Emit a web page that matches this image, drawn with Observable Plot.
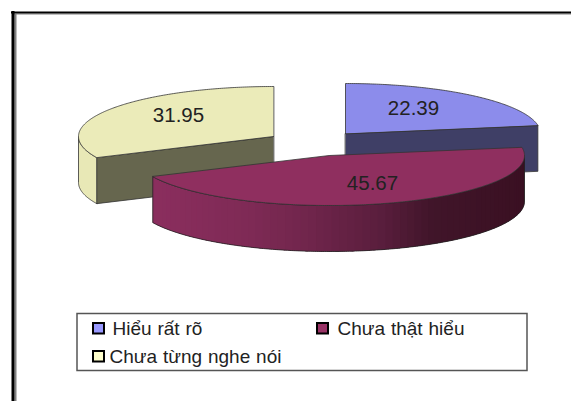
<!DOCTYPE html>
<html>
<head>
<meta charset="utf-8">
<script src="https://cdn.jsdelivr.net/npm/d3@7"></script>
<script src="https://cdn.jsdelivr.net/npm/@observablehq/plot@0.6"></script>
<style>
  html, body { margin: 0; padding: 0; background: #fff; overflow: hidden; }
  svg { display: block; }
  svg text { word-spacing: 0.6px; }
</style>
</head>
<body>
<div id="chart"></div>
<script>
// Survey answers, in percent
const categories = ["Hiểu rất rõ", "Chưa thật hiểu", "Chưa từng nghe nói"];
const shares = [22.39, 45.67, 31.95];

// Colours per slice: top surface, flat cut face, legend swatch
const topColors = ["#8c8ceb", "#8f2f5f", "#ebebb9"];
const faceColors = ["#3f3f66", "#5a1e3d", "#66664e"];
const swatchColors = ["#9999ff", "#993366", "#ffffcc"];

// Layout of the tilted, exploded pie
const radiusX = 195, radiusY = 50, depth = 46;
const hubs = [[345, 133], [329, 155], [273, 136]];
const labelSpots = [[413, 108], [372, 183], [178, 115]];

// Shading along the rim of the front slice
const rimStops = [152, 250, 300, 380, 430, 524];
const rimColors = ["#8b2e5e", "#7e2a55", "#72264d", "#5a1e3d", "#41152a", "#3a1022"];
const rimShade = d3.scaleLinear().domain(rimStops).range(rimColors);

const arcs = d3.pie().sort(null).startAngle(0).endAngle(2 * Math.PI)(shares);

const rimPoint = (i, a, drop = 0) => ({
  x: hubs[i][0] + radiusX * Math.sin(a),
  y: hubs[i][1] - radiusY * Math.cos(a) + drop
});

function arcPoints(i, a0, a1, drop = 0) {
  const n = Math.max(2, Math.ceil(Math.abs(a1 - a0) / 0.01));
  return d3.range(n + 1).map((k) => rimPoint(i, a0 + (a1 - a0) * k / n, drop));
}

function polygon(points, fill, stroke = fill, strokeWidth = 0.8) {
  return Plot.line(points, { x: "x", y: "y", fill, stroke, strokeWidth, curve: "linear-closed" });
}

const hubPoint = (i, drop = 0) => ({ x: hubs[i][0], y: hubs[i][1] + drop });

// Flat cut face showing below the leading edge of a slice
function cutFace(i, a) {
  return polygon(
    [hubPoint(i), rimPoint(i, a), rimPoint(i, a, depth), hubPoint(i, depth)],
    faceColors[i], "#333"
  );
}

// Curved outer wall between two angles
function wallPoints(i, a0, a1) {
  return [...arcPoints(i, a0, a1), ...arcPoints(i, a1, a0, depth)];
}

function topSurface(i) {
  return polygon([hubPoint(i), ...arcPoints(i, arcs[i].startAngle, arcs[i].endAngle)], topColors[i], "#333");
}

const threeQuarter = 1.5 * Math.PI;

// Yellow slice: wall on the left side, then the cut face and top
const yellowMarks = [
  polygon(wallPoints(2, arcs[2].startAngle, threeQuarter), "#e8e8b6", "#333"),
  cutFace(2, arcs[2].startAngle),
  topSurface(2)
];

// Blue slice: cut face along its clockwise edge, then the top
const blueMarks = [cutFace(0, arcs[0].endAngle), topSurface(0)];

// Purple slice: wall built from overlapping shaded strips, each painted over the previous one
const wallStart = Math.PI / 2, wallEnd = arcs[1].endAngle;
const stripEdges = d3.range(wallStart, wallEnd, 0.04).concat([wallEnd]);
const purpleStrips = d3.pairs(stripEdges).map(([a0, a1]) => {
  const shade = rimShade(rimPoint(1, (a0 + a1) / 2).x);
  return Plot.line(wallPoints(1, a0, Math.min(a1 + 0.06, wallEnd)), {
    x: "x", y: "y", fill: shade, stroke: "none", curve: "linear-closed"
  });
});
const purpleMarks = [
  ...purpleStrips,
  Plot.line(wallPoints(1, wallStart, wallEnd), { x: "x", y: "y", stroke: "#222", strokeWidth: 0.8, curve: "linear-closed" }),
  topSurface(1)
];

// Outer frame: black edge with a grey inner edge
const frameMarks = [
  Plot.ruleX([15], { y1: 14, y2: 401, stroke: "#808080", strokeWidth: 2 }),
  Plot.ruleY([13.5], { x1: 14, x2: 571, stroke: "#808080", strokeWidth: 1 }),
  Plot.ruleX([12.5], { y1: 11, y2: 401, stroke: "#000", strokeWidth: 3 }),
  Plot.ruleY([12], { x1: 11, x2: 571, stroke: "#000", strokeWidth: 2 })
];

// Legend
const legendSlots = [
  { box: [93, 323], textX: 112, textY: 328 },
  { box: [317, 323], textX: 337, textY: 328 },
  { box: [93, 351], textX: 109, textY: 356 }
];
const legendRows = categories.map((name, i) => ({ name, color: swatchColors[i], ...legendSlots[i] }));
const legendMarks = [
  Plot.rect([0], { x1: 77, x2: 527, y1: 313.5, y2: 370.5, fill: "#fff", stroke: "#555", strokeWidth: 1.5 }),
  Plot.rect(legendRows, {
    x1: (d) => d.box[0], x2: (d) => d.box[0] + 11,
    y1: (d) => d.box[1], y2: (d) => d.box[1] + 10.5,
    fill: "color", stroke: "#000", strokeWidth: 2
  }),
  Plot.text(legendRows, {
    x: "textX", y: "textY", text: "name", textAnchor: "start",
    fontFamily: "Liberation Sans", fontSize: 19, fill: "#222"
  })
];

const valueLabels = Plot.text(shares.map((v, i) => ({ v, at: labelSpots[i] })), {
  x: (d) => d.at[0], y: (d) => d.at[1], text: (d) => d.v.toFixed(2),
  fontFamily: "Liberation Sans", fontSize: 20.5, fill: "#222"
});

const chart = Plot.plot({
  width: 571, height: 401,
  margin: 0,
  style: { background: "#fff" },
  x: { domain: [0, 571], range: [0, 571], axis: null },
  y: { domain: [0, 401], range: [0, 401], axis: null },
  marks: [...frameMarks, ...yellowMarks, ...blueMarks, ...purpleMarks, valueLabels, ...legendMarks]
});
document.getElementById("chart").appendChild(chart);
</script>
</body>
</html>
